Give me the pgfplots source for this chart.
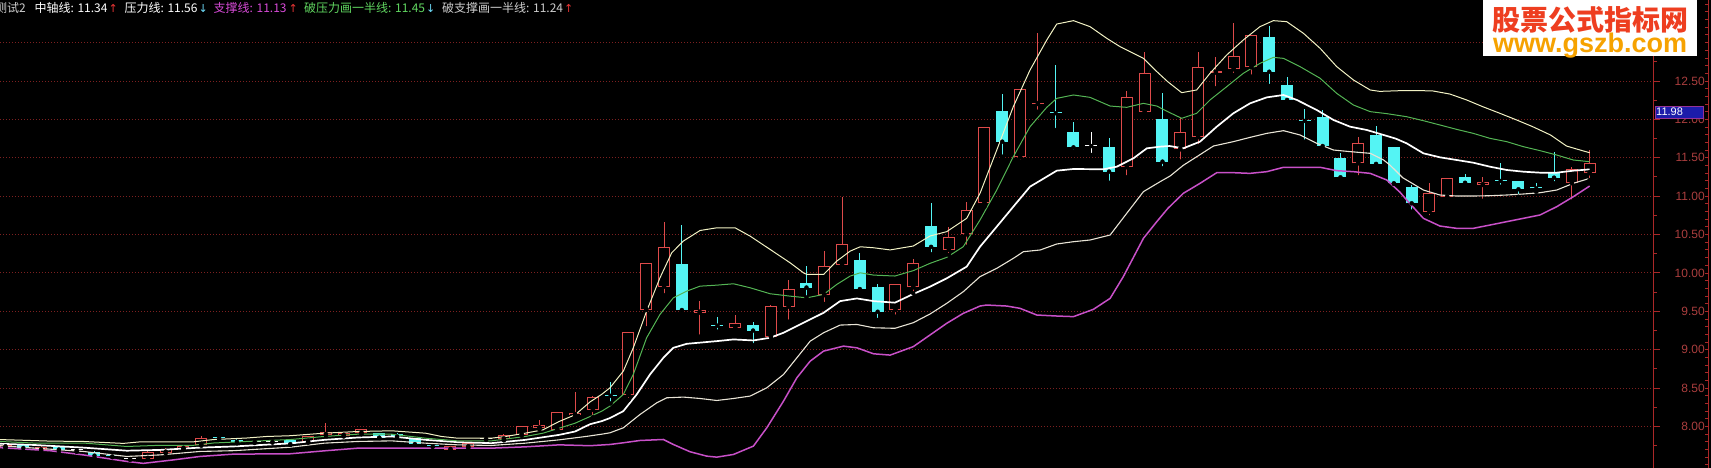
\documentclass[border=0pt]{standalone}
\usepackage{fontspec}
\usepackage{pgfplots}
\usepackage{pgfplotstable}
\pgfplotsset{compat=1.18}
\setmainfont{Liberation Sans}
\newfontfamily\cjk{Noto Sans CJK SC}
\newfontfamily\sym{DejaVu Sans}

\definecolor{upred}{RGB}{222,74,74}
\definecolor{downcyan}{RGB}{84,244,244}
\definecolor{ptop}{RGB}{242,242,196}
\definecolor{pgreen}{RGB}{84,180,84}
\definecolor{plow}{RGB}{232,228,214}
\definecolor{pmag}{RGB}{200,80,200}
\definecolor{gridred}{RGB}{125,32,32}
\definecolor{axred}{RGB}{170,40,40}
\definecolor{lblred}{RGB}{170,62,62}
\definecolor{lgray}{RGB}{205,205,205}
\definecolor{lgreen}{RGB}{96,214,96}
\definecolor{lmag}{RGB}{214,74,214}
\definecolor{arrred}{RGB}{232,52,52}
\definecolor{arrcyan}{RGB}{110,220,250}
\definecolor{wmred}{RGB}{238,62,32}
\definecolor{wmorange}{RGB}{246,162,0}
\definecolor{boxblue}{RGB}{28,28,170}
\definecolor{boxedge}{RGB}{150,50,150}

% daily candles: k = trading day, o h l c
\pgfplotstableread{
k o h l c
0 7.73 7.77 7.72 7.76
2 7.69 7.74 7.68 7.73
8 7.58 7.68 7.57 7.67
9 7.66 7.72 7.65 7.71
10 7.71 7.76 7.70 7.75
11 7.76 7.88 7.75 7.855
17 7.80 7.88 7.79 7.875
18 7.89 8.05 7.88 7.93
19 7.88 7.93 7.87 7.92
20 7.91 7.97 7.90 7.965
25 7.695 7.745 7.69 7.74
26 7.73 7.79 7.72 7.78
28 7.833 7.90 7.82 7.89
29 7.89 8.01 7.88 8.007
30 7.977 8.09 7.96 8.02
31 7.955 8.19 7.95 8.185
32 8.15 8.455 8.13 8.18
33 8.215 8.40 8.12 8.39
35 8.41 9.23 8.345 9.227
36 9.517 10.13 9.28 10.125
37 9.82 10.67 9.71 10.334
39 9.483 9.64 9.17 9.517
41 9.28 9.45 9.235 9.353
43 9.17 9.58 9.165 9.57
44 9.56 9.91 9.365 9.79
46 9.71 10.28 9.595 10.09
47 10.11 10.985 10.06 10.373
50 9.517 9.86 9.43 9.852
51 9.813 10.177 9.735 10.125
53 10.30 10.60 10.234 10.464
54 10.503 10.93 10.34 10.82
55 10.907 11.90 10.863 11.897
57 11.506 12.40 11.45 12.39
58 12.20 13.12 12.10 12.22
63 11.376 12.374 11.246 12.288
64 12.10 12.88 12.07 12.60
66 11.61 12.014 11.45 11.832
67 11.767 12.88 11.653 12.686
68 12.608 12.81 12.405 12.634
69 12.652 13.25 12.578 12.826
70 12.678 13.10 12.556 13.10
76 11.428 11.767 11.246 11.696
80 10.798 11.175 10.725 11.037
81 10.985 11.24 10.95 11.233
83 11.145 11.254 10.94 11.19
88 11.168 11.384 10.93 11.35
89 11.298 11.60 11.21 11.428
}\upT

\pgfplotstableread{
k o h l c
1 7.76 7.77 7.68 7.72
3 7.73 7.74 7.67 7.70
5 7.67 7.68 7.59 7.62
6 7.63 7.64 7.60 7.61
12 7.86 7.87 7.83 7.85
13 7.825 7.84 7.78 7.80
16 7.82 7.83 7.76 7.77
21 7.91 7.92 7.85 7.855
22 7.90 7.91 7.86 7.87
23 7.846 7.85 7.76 7.77
24 7.76 7.77 7.735 7.74
38 10.117 10.625 9.495 9.517
42 9.32 9.365 9.06 9.25
45 9.865 10.09 9.68 9.81
48 10.169 10.256 9.748 9.79
49 9.813 9.856 9.387 9.495
52 10.61 10.907 10.243 10.34
56 12.113 12.33 11.514 11.71
60 11.832 11.96 11.58 11.636
62 11.636 11.754 11.175 11.32
65 12.005 12.34 11.363 11.45
71 13.069 13.216 12.435 12.621
72 12.448 12.548 12.218 12.253
74 12.035 12.122 11.62 11.653
75 11.493 11.566 11.22 11.246
77 11.797 11.914 11.406 11.42
78 11.636 11.645 11.16 11.168
79 11.116 11.145 10.798 10.907
82 11.254 11.29 11.132 11.175
85 11.198 11.20 10.993 11.09
87 11.311 11.571 11.168 11.241
}\downT

\pgfplotstableread{
k o h l c
4 7.69 7.71 7.67 7.69
7 7.577 7.59 7.565 7.577
14 7.80 7.815 7.785 7.80
15 7.80 7.82 7.79 7.80
27 7.84 7.855 7.825 7.84
61 11.653 11.84 11.536 11.653
}\dojiW

\pgfplotstableread{
k o h l c
34 8.40 8.58 8.30 8.40
40 9.313 9.43 9.235 9.313
59 12.08 12.71 11.86 12.08
73 11.98 12.13 11.71 11.98
84 11.198 11.436 11.123 11.198
86 11.10 11.175 11.058 11.10
}\dojiC

\pgfplotsset{
  candle wick/.style={only marks, mark=none, forget plot,
    error bars/.cd, y dir=plus, y explicit, error mark=none,
    error bar style={line width=1pt, color=#1}},
  candle body/.style 2 args={only marks, mark=none, forget plot,
    error bars/.cd, y dir=plus, y explicit, error mark=none,
    error bar style={line width=#2, color=#1}},
}

\begin{document}
\begin{tikzpicture}
\useasboundingbox (0,0) rectangle (1711pt,468pt);
\fill[black] (0,0) rectangle (1711pt,468pt);
\begin{axis}[
  at={(0pt,0pt)}, anchor=south west,
  scale only axis, width=1654pt, height=468pt,
  xmin=-0.309, xmax=92.612, ymin=7.4596, ymax=13.5551,
  axis x line=none,
  axis y line*=right,
  axis line style={axred, line width=1pt},
  ytick={8,8.5,9,9.5,10,10.5,11,11.5,12,12.5},
  minor ytick={7.75,8.25,8.75,9.25,9.75,10.25,10.75,11.25,11.75,12.25,12.75,13.25},
  extra y ticks={13}, extra y tick labels={},
  extra y tick style={grid=major},
  ymajorgrids,
  major grid style={gridred, line width=0.9pt, dash pattern=on 1pt off 2pt},
  tick align=outside,
  major tick length=6pt, minor tick length=3pt,
  tick style={axred, line width=1pt},
  yticklabel style={font=\fontsize{12pt}{12pt}\selectfont, text=lblred,
    anchor=east, inner sep=0pt, xshift=45pt,
    /pgf/number format/.cd, fixed, fixed zerofill, precision=2, assume math mode=true},
]
% candles: wicks, bodies, hollow interiors of rising days
\addplot [candle wick=upred] table [x=k, y=l, y error plus expr=\thisrow{h}-\thisrow{l}] {\upT};
\addplot [candle body={upred}{12pt}] table [x=k, y=o, y error plus expr={max(\thisrow{c}-\thisrow{o},0.013)}] {\upT};
\addplot [candle body={black}{10pt}] table [x=k, y expr=\thisrow{o}+0.013, y error plus expr={max(\thisrow{c}-\thisrow{o}-0.026,0)}] {\upT};

\addplot [candle wick=downcyan] table [x=k, y=l, y error plus expr=\thisrow{h}-\thisrow{l}] {\downT};
\addplot [candle body={downcyan}{12pt}] table [x=k, y=c, y error plus expr={max(\thisrow{o}-\thisrow{c},0.013)}] {\downT};

\addplot [candle wick=white] table [x=k, y=l, y error plus expr=\thisrow{h}-\thisrow{l}] {\dojiW};
\addplot [candle body={white}{12pt}] table [x=k, y=c, y error plus expr={0.013}] {\dojiW};
\addplot [candle wick=downcyan] table [x=k, y=l, y error plus expr=\thisrow{h}-\thisrow{l}] {\dojiC};
\addplot [candle body={downcyan}{12pt}] table [x=k, y=c, y error plus expr={0.013}] {\dojiC};

% 支撑线
\addplot [pmag, line width=1.5pt] coordinates {
(-0.31,7.725) (2.5,7.685) (4.37,7.63) (6.81,7.545) (7.74,7.52) (9.43,7.565) (10.93,7.61) (12.8,7.64) (16.0,7.645) (17.9,7.683) (19.8,7.718) (21.7,7.718) (23.6,7.718) (27.3,7.718) (29.2,7.735) (31.1,7.761) (32.84,7.75) (33.96,7.766) (34.71,7.788) (35.65,7.818) (36.96,7.831) (37.52,7.766) (38.46,7.671) (39.4,7.614) (39.96,7.601) (40.9,7.636) (42.02,7.745) (42.77,7.983) (43.71,8.331) (44.46,8.635) (45.21,8.852) (45.96,8.982) (47.08,9.047) (47.83,9.025) (48.77,8.947) (49.7,8.93) (51.0,9.04) (51.94,9.192) (52.88,9.344) (53.81,9.474) (54.75,9.569) (55.12,9.582) (56.25,9.569) (57.0,9.539) (57.94,9.452) (59.06,9.439) (60.0,9.431) (61.12,9.526) (62.06,9.669) (62.8,9.952) (63.93,10.451) (64.68,10.668) (65.3,10.84) (66.17,11.037) (67.11,11.167) (68.05,11.306) (68.98,11.306) (69.92,11.297) (70.86,11.319) (71.8,11.376) (72.73,11.376) (73.86,11.376) (74.79,11.332) (75.73,11.319) (76.67,11.297) (77.6,11.211) (78.35,11.05) (78.72,10.95) (79.66,10.711) (80.59,10.611) (81.53,10.581) (82.46,10.581) (83.4,10.624) (84.34,10.668) (85.27,10.711) (86.21,10.755) (87.15,10.863) (88.08,10.993) (89.0,11.132)
};
% 破支撑画一半线
\addplot [plow, line width=1.1pt] coordinates {
(-0.31,7.75) (1.56,7.72) (4.37,7.675) (6.81,7.61) (8.68,7.63) (10.93,7.675) (12.8,7.685) (16.0,7.73) (17.9,7.783) (19.8,7.805) (21.7,7.813) (23.6,7.783) (25.4,7.761) (27.3,7.753) (29.2,7.783) (31.1,7.826) (32.6,7.87) (33.5,7.90) (33.96,7.918) (34.71,7.983) (35.65,8.157) (36.59,8.309) (37.15,8.374) (38.08,8.383) (39.02,8.365) (39.96,8.339) (40.9,8.365) (41.83,8.396) (42.77,8.504) (43.71,8.678) (44.46,8.895) (45.21,9.112) (45.96,9.221) (46.89,9.321) (47.83,9.329) (48.77,9.286) (49.97,9.279) (51.0,9.352) (51.94,9.465) (52.88,9.604) (53.81,9.756) (54.75,9.952) (55.69,10.06) (56.62,10.19) (57.19,10.277) (58.13,10.299) (59.06,10.377) (60.0,10.407) (60.93,10.429) (62.06,10.494) (62.99,10.776) (63.93,11.059) (64.87,11.189) (65.43,11.263) (66.17,11.402) (67.11,11.541) (67.86,11.653) (68.98,11.71) (69.92,11.766) (70.86,11.818) (71.8,11.853) (72.73,11.797) (73.67,11.688) (74.61,11.601) (75.54,11.58) (76.67,11.558) (77.42,11.471) (77.78,11.406) (78.5,11.24) (79.66,11.08) (80.59,11.015) (81.53,11.002) (82.46,11.002) (83.4,11.006) (84.34,11.015) (85.27,11.028) (86.21,11.045) (87.15,11.08) (88.08,11.167) (89.0,11.232)
};
% 中轴线
\addplot [white, line width=1.7pt] coordinates {
(-0.31,7.775) (1.56,7.76) (4.37,7.725) (6.81,7.685) (8.68,7.695) (10.93,7.725) (12.8,7.74) (16.0,7.78) (17.9,7.826) (19.8,7.857) (21.7,7.87) (23.6,7.826) (25.4,7.796) (27.3,7.783) (29.2,7.826) (31.1,7.891) (32.0,7.935) (32.84,8.03) (33.5,8.07) (33.96,8.11) (34.71,8.2) (35.46,8.417) (36.21,8.678) (36.96,8.895) (37.52,9.025) (38.27,9.077) (39.96,9.112) (40.9,9.134) (42.02,9.121) (42.96,9.156) (43.71,9.221) (45.02,9.373) (45.96,9.481) (46.89,9.633) (47.83,9.668) (48.77,9.633) (49.97,9.613) (51.0,9.726) (51.94,9.821) (52.88,9.93) (54.0,10.082) (54.75,10.342) (55.69,10.603) (56.62,10.863) (57.56,11.124) (58.5,11.254) (59.06,11.332) (60.0,11.354) (61.68,11.35) (62.43,11.384) (63.37,11.493) (64.12,11.623) (64.87,11.645) (65.4,11.653) (66.17,11.623) (67.11,11.71) (68.05,11.905) (68.98,12.079) (69.92,12.209) (70.86,12.287) (71.8,12.318) (72.55,12.253) (73.67,12.122) (74.61,11.992) (75.54,11.905) (76.48,11.862) (77.42,11.797) (78.1,11.75) (78.72,11.688) (79.66,11.558) (80.59,11.506) (81.53,11.471) (82.46,11.436) (83.4,11.384) (84.34,11.341) (85.27,11.319) (86.21,11.306) (87.15,11.306) (88.08,11.332) (89.0,11.349)
};
% 破压力画一半线
\addplot [pgreen, line width=1pt] coordinates {
(-0.31,7.805) (1.56,7.785) (4.37,7.785) (6.81,7.74) (8.68,7.755) (10.55,7.755) (11.68,7.785) (13.55,7.805) (16.0,7.83) (17.9,7.87) (19.8,7.90) (21.7,7.90) (23.6,7.848) (25.4,7.813) (27.3,7.813) (29.2,7.87) (30.2,7.913) (31.1,7.978) (32.0,8.043) (32.84,8.13) (33.5,8.2) (33.96,8.266) (34.71,8.417) (35.27,8.678) (36.02,9.156) (36.77,9.46) (37.52,9.676) (38.27,9.763) (39.02,9.828) (39.96,9.841) (40.9,9.859) (41.83,9.807) (42.96,9.729) (44.08,9.698) (45.02,9.676) (45.96,9.72) (46.7,9.85) (47.45,9.959) (48.02,10.002) (48.77,9.972) (49.97,9.96) (51.0,10.03) (51.94,10.125) (52.88,10.203) (53.81,10.342) (54.75,10.69) (55.69,11.08) (56.62,11.514) (57.56,11.905) (58.5,12.157) (59.06,12.274) (60.0,12.318) (60.93,12.287) (62.06,12.174) (62.99,12.157) (63.93,12.209) (64.68,12.174) (65.3,12.10) (66.08,12.014) (66.92,12.079) (67.67,12.253) (68.61,12.426) (69.54,12.6) (70.48,12.73) (71.23,12.808) (71.8,12.795) (72.73,12.687) (73.86,12.535) (74.79,12.339) (75.73,12.187) (76.67,12.101) (77.6,12.075) (78.72,12.035) (79.66,11.983) (80.59,11.927) (81.53,11.87) (82.46,11.818) (83.4,11.753) (84.34,11.71) (85.27,11.645) (86.21,11.593) (87.15,11.536) (88.08,11.471) (89.0,11.449)
};
% 压力线
\addplot [ptop, line width=1pt] coordinates {
(-0.31,7.83) (2.5,7.81) (4.37,7.805) (6.62,7.78) (7.56,7.80) (10.55,7.80) (11.68,7.83) (13.55,7.85) (14.67,7.87) (16.0,7.88) (17.9,7.913) (19.8,7.935) (21.7,7.944) (23.6,7.913) (24.5,7.87) (25.4,7.848) (27.3,7.848) (28.1,7.87) (29.2,7.913) (30.2,7.957) (31.1,8.065) (32.0,8.152) (32.84,8.32) (33.5,8.42) (33.96,8.504) (34.71,8.721) (35.27,9.025) (36.02,9.503) (36.77,9.937) (37.43,10.263) (38.08,10.415) (39.02,10.553) (39.96,10.588) (40.99,10.588) (41.83,10.48) (42.96,10.306) (44.08,10.132) (44.83,10.002) (45.02,9.98) (45.96,9.98) (46.7,10.154) (47.45,10.284) (48.02,10.341) (48.77,10.328) (49.7,10.30) (51.0,10.351) (51.94,10.481) (52.88,10.538) (54.0,10.711) (54.75,11.037) (55.69,11.601) (56.62,12.166) (57.56,12.643) (58.5,13.034) (59.06,13.242) (60.0,13.286) (60.93,13.208) (61.87,13.056) (62.62,12.947) (63.93,12.795) (64.6,12.64) (65.3,12.49) (66.08,12.348) (66.92,12.383) (67.67,12.6) (68.61,12.839) (69.54,13.034) (70.48,13.208) (71.23,13.286) (71.98,13.273) (72.92,13.121) (73.86,12.925) (74.79,12.687) (75.73,12.513) (76.67,12.383) (77.2,12.365) (78.35,12.374) (79.6,12.374) (80.2,12.37) (81.15,12.33) (82.09,12.253) (83.0,12.165) (83.96,12.079) (84.9,11.992) (85.8,11.905) (86.8,11.797) (87.7,11.653) (88.6,11.592) (89.0,11.566)
};
\end{axis}

% price scale border on the far right
\draw[axred, line width=1pt] (1708.5pt,0pt) -- (1708.5pt,468pt);
\foreach \i in {0,...,60}
  \draw[axred, line width=0.8pt] (1705pt,{(7.5+0.1*\i-7.4596)*76.78pt}) -- (1708.5pt,{(7.5+0.1*\i-7.4596)*76.78pt});

% current value marker
\filldraw[fill=boxblue, draw=boxedge, line width=0.8pt] (1655pt,350pt) rectangle (1703pt,361.5pt);
\node[anchor=west, inner sep=0pt, text=white, font=\fontsize{11pt}{11pt}\selectfont] at (1656pt,355.8pt) {11.98};

% indicator title line
\begin{scope}[every node/.style={inner sep=0pt, anchor=base west}]
\node[text=lgray, font=\cjk\fontsize{12pt}{12pt}\selectfont] at (-5pt,455.4pt) {测试2};
\node[text=white, font=\cjk\fontsize{12pt}{12pt}\selectfont] at (34.4pt,455.4pt) {中轴线: 11.34};
\node[text=arrred, font=\sym\fontsize{11pt}{11pt}\selectfont] at (108.5pt,455.4pt) {↑};
\node[text=white, font=\cjk\fontsize{12pt}{12pt}\selectfont] at (124.4pt,455.4pt) {压力线: 11.56};
\node[text=arrcyan, font=\sym\fontsize{11pt}{11pt}\selectfont] at (198.5pt,455.4pt) {↓};
\node[text=lmag, font=\cjk\fontsize{12pt}{12pt}\selectfont] at (213.5pt,455.4pt) {支撑线: 11.13};
\node[text=arrred, font=\sym\fontsize{11pt}{11pt}\selectfont] at (288.5pt,455.4pt) {↑};
\node[text=lgreen, font=\cjk\fontsize{12pt}{12pt}\selectfont] at (304pt,455.4pt) {破压力画一半线: 11.45};
\node[text=arrcyan, font=\sym\fontsize{11pt}{11pt}\selectfont] at (426pt,455.4pt) {↓};
\node[text=lgray, font=\cjk\fontsize{12pt}{12pt}\selectfont] at (442pt,455.4pt) {破支撑画一半线: 11.24};
\node[text=arrred, font=\sym\fontsize{11pt}{11pt}\selectfont] at (564pt,455.4pt) {↑};
\end{scope}

% site badge
\fill[white] (1483pt,412pt) rectangle (1697pt,468pt);
\node[inner sep=0pt, text=wmred, font=\cjk\bfseries\fontsize{28pt}{28pt}\selectfont] at (1590pt,448pt) {股票公式指标网};
\node[inner sep=0pt, text=wmorange, font=\bfseries\fontsize{27pt}{27pt}\selectfont] at (1590pt,422pt) {www.gszb.com};
\end{tikzpicture}
\end{document}
